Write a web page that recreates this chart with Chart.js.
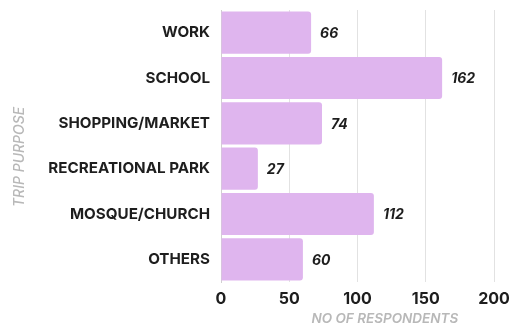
<!DOCTYPE html>
<html>
<head>
<meta charset="utf-8">
<script src="https://cdn.jsdelivr.net/npm/chart.js@4/dist/chart.umd.min.js"></script>
<style>
  html, body { margin: 0; padding: 0; background: #fff; }
  #wrap { width: 513px; height: 327px; position: relative; }
</style>
</head>
<body>
<div id="wrap"><canvas id="chart"></canvas></div>
<script>
const purposes = ['WORK', 'SCHOOL', 'SHOPPING/MARKET', 'RECREATIONAL PARK', 'MOSQUE/CHURCH', 'OTHERS']
const respondents = [66, 162, 74, 27, 112, 60]
const xTicks = [0, 50, 100, 150, 200]

const FONT = 'Inter, "Noto Sans", sans-serif'

// Value printed just past the end of each bar
const valueLabels = {
  id: 'valueLabels',
  afterDatasetsDraw(chart) {
    const ctx = chart.ctx
    const meta = chart.getDatasetMeta(0)
    ctx.save()
    ctx.font = 'italic 700 14px ' + FONT
    ctx.fillStyle = '#1e1e1e'
    ctx.textAlign = 'left'
    ctx.textBaseline = 'middle'
    meta.data.forEach((bar, i) => {
      ctx.fillText(String(respondents[i]), bar.x + 9, bar.y + 1)
    })
    ctx.restore()
  }
}

// Axis titles, set off slightly from the plot centre
const axisTitles = {
  id: 'axisTitles',
  afterDraw(chart) {
    const { ctx, chartArea } = chart
    ctx.save()
    ctx.fillStyle = '#b8b8b8'
    ctx.textAlign = 'center'
    ctx.textBaseline = 'middle'
    ctx.font = 'italic 600 13.5px ' + FONT
    ctx.fillText('NO OF RESPONDENTS', chartArea.left + chartArea.width * 0.6, 319)

    ctx.font = 'italic 500 14px ' + FONT
    ctx.translate(20, chartArea.top + chartArea.height * 0.54)
    ctx.rotate(-Math.PI / 2)
    ctx.fillText('TRIP PURPOSE', 0, 0)
    ctx.restore()
  }
}

new Chart(document.getElementById('chart'), {
  type: 'bar',
  data: {
    labels: purposes,
    datasets: [{
      data: respondents,
      backgroundColor: '#dfb5ee',
      borderRadius: 3,
      borderSkipped: 'start',
      barPercentage: 0.93,
      categoryPercentage: 1
    }]
  },
  options: {
    indexAxis: 'y',
    responsive: true,
    maintainAspectRatio: false,
    animation: false,
    layout: { padding: { top: 10, right: 19, bottom: 0, left: 0 } },
    plugins: {
      legend: { display: false },
      tooltip: { enabled: false }
    },
    scales: {
      x: {
        min: 0,
        max: 200,
        afterBuildTicks: (axis) => { axis.ticks = xTicks.map((v) => ({ value: v })) },
        afterFit: (axis) => {
          axis.height = 45
          axis.paddingLeft = 0
          axis.paddingRight = 0
        },
        grid: { color: '#e2e2e2', drawTicks: false },
        border: { display: false },
        ticks: {
          padding: 8,
          color: '#1e1e1e',
          font: { family: FONT, size: 16, weight: '700' }
        }
      },
      y: {
        afterFit: (axis) => {
          axis.width = 221
          axis.paddingTop = 0
          axis.paddingBottom = 0
        },
        grid: { display: false, drawTicks: false },
        border: { display: true, color: '#d0d0d0', width: 1 },
        ticks: {
          padding: 11,
          color: '#1e1e1e',
          font: { family: FONT, size: 15.2, weight: '700' }
        }
      }
    }
  },
  plugins: [valueLabels, axisTitles]
})
</script>
</body>
</html>
